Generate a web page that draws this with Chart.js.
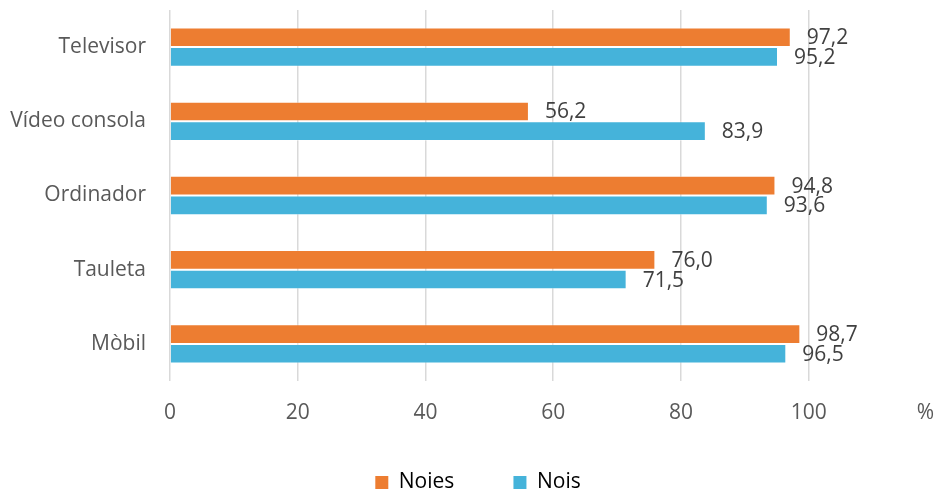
<!DOCTYPE html>
<html>
<head>
<meta charset="utf-8">
<script src="https://cdn.jsdelivr.net/npm/chart.js@4"></script>
<style>
html,body{margin:0;padding:0;background:#fff;}
#wrap{width:939px;height:498px;position:relative;}
</style>
</head>
<body>
<div id="wrap"><canvas id="c" width="939" height="498"></canvas></div>
<script>
const categories = ["Televisor", "Vídeo consola", "Ordinador", "Tauleta", "Mòbil"];
const noies = [97.2, 56.2, 94.8, 76.0, 98.7];
const nois = [95.2, 83.9, 93.6, 71.5, 96.5];
const xTicks = [0, 20, 40, 60, 80, 100];
const xMax = 119;
const unitTick = 118.3;
const unitLabel = "%";

const FONT = "'Open Sans', sans-serif";

const valueLabels = {
  id: 'valueLabels',
  afterDatasetsDraw(chart) {
    const ctx = chart.ctx;
    ctx.save();
    ctx.font = "21px " + FONT;
    ctx.fillStyle = "#404040";
    ctx.textAlign = "left";
    ctx.textBaseline = "middle";
    chart.data.datasets.forEach((ds, i) => {
      const meta = chart.getDatasetMeta(i);
      meta.data.forEach((bar, j) => {
        const v = ds.data[j];
        ctx.fillText(v.toFixed(1).replace('.', ','), bar.x + 16, bar.y + 1);
      });
    });
    ctx.restore();
  }
};

const legendShift = {
  id: 'legendShift',
  afterLayout(chart) {
    if (chart.legend) { chart.legend.left += 13; chart.legend.right += 13; }
  }
};

new Chart(document.getElementById('c'), {
  type: 'bar',
  data: {
    labels: categories,
    datasets: [
      { label: 'Noies', data: noies, backgroundColor: '#ED7D31', borderColor: 'rgba(255,255,255,0.35)', borderWidth: 1 },
      { label: 'Nois', data: nois, backgroundColor: '#45B3DA', borderColor: 'rgba(255,255,255,0.35)', borderWidth: 1 }
    ]
  },
  options: {
    indexAxis: 'y',
    responsive: false,
    animation: false,
    devicePixelRatio: 1,
    categoryPercentage: 0.53,
    barPercentage: 1.0,
    layout: { padding: { top: 10, right: 9, left: 0, bottom: -5 } },
    scales: {
      x: {
        min: 0,
        max: xMax,
        afterBuildTicks(scale) {
          scale.ticks = xTicks.concat([unitTick]).map(v => ({ value: v }));
        },
        afterFit(scale) { scale.height = 81; scale.paddingLeft = 0; scale.paddingRight = 0; },
        ticks: {
          font: { family: FONT, size: 21 },
          color: '#595959',
          padding: 19,
          maxRotation: 0,
          autoSkip: false,
          callback: (v) => v === unitTick ? unitLabel : String(v)
        },
        grid: {
          color: (c) => (c.tick && c.tick.value === unitTick) ? 'rgba(0,0,0,0)' : '#D9D9D9',
          lineWidth: 1.5,
          drawTicks: false
        },
        border: { display: false }
      },
      y: {
        afterFit(scale) { scale.width = 170; scale.paddingTop = 0; scale.paddingBottom = 0; },
        ticks: {
          font: { family: FONT, size: 21 },
          color: '#595959',
          padding: 24
        },
        grid: { display: false, drawTicks: false },
        border: { display: false }
      }
    },
    plugins: {
      legend: {
        position: 'bottom',
        labels: {
          font: { family: FONT, size: 21 },
          color: '#595959',
          boxWidth: 13,
          boxHeight: 13,
          padding: 10,
          generateLabels(chart) {
            return chart.data.datasets.map((ds, i) => ({
              text: i === 0 ? ds.label + '         ' : ds.label,
              fillStyle: ds.backgroundColor,
              strokeStyle: ds.backgroundColor,
              lineWidth: 0,
              datasetIndex: i,
              hidden: false
            }));
          }
        }
      },
      tooltip: { enabled: false }
    }
  },
  plugins: [valueLabels, legendShift]
});
</script>
</body>
</html>
